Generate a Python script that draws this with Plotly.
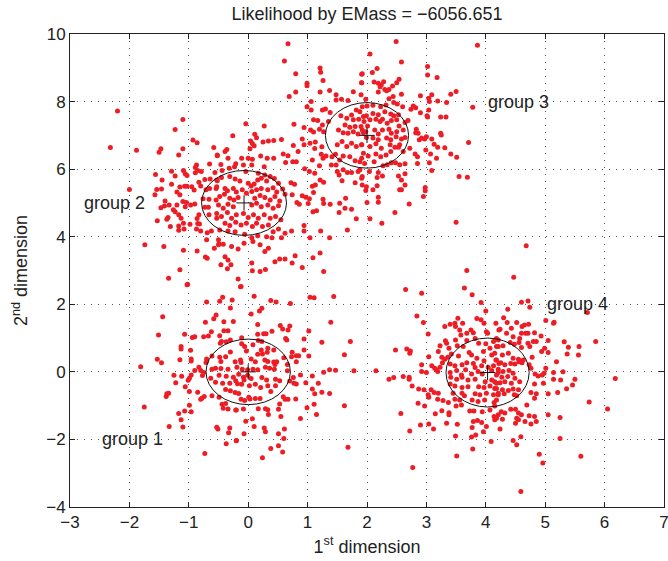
import plotly.graph_objects as go

# ---------------- data (data units) ----------------
group1_pts = [
    (-1.03,2.58),(-0.70,2.07),(-0.48,2.09),(-0.43,2.21),(-0.27,2.13),(-0.30,1.89),(-0.54,1.68),(-0.58,1.57),
    (-1.44,1.63),(-0.72,1.47),(-0.41,1.48),(-0.25,1.49),(-0.62,1.19),(-0.75,1.04),(-0.67,1.06),(-0.48,1.07),
    (-0.41,1.22),(-0.34,1.22),(-1.07,1.11),(-0.94,1.02),(-0.90,1.04),(-1.51,1.09),(-1.13,0.75),(-1.13,0.68),
    (-0.97,0.64),(-0.45,0.90),(-0.47,0.85),(-0.37,0.89),(-0.30,0.94),(-0.96,0.38),(-0.96,0.32),(-1.15,0.36),
    (-1.53,0.37),(-1.46,0.27),(-0.70,0.38),(-0.61,0.47),(-0.48,0.43),(-0.38,0.45),(-0.30,0.59),(-0.46,0.31),
    (-1.81,0.15),(-0.83,0.14),(-0.90,0.04),(-0.80,0.04),(-0.75,-0.02),(-0.61,0.08),(-0.55,0.11),(-0.46,0.10),
    (-0.34,0.08),(-0.71,0.28),(-1.25,-0.10),(-1.12,-0.13),(-0.96,-0.09),(-0.99,-0.19),(-0.77,-0.11),(-0.63,-0.19),
    (-0.49,-0.10),(-0.37,-0.13),(-0.25,-0.16),(-1.01,-0.25),(-1.22,-0.32),(-0.55,-0.31),(-0.43,-0.34),(-0.31,-0.34),
    (-0.18,-0.35),(-1.06,-0.44),(-0.99,-0.58),(-0.85,-0.60),(-0.74,-0.73),(-0.80,-0.81),(-0.78,-0.78),(-0.61,-0.71),
    (-0.49,-0.75),(-0.38,-0.52),(-0.30,-0.56),(-0.22,-0.61),(-1.37,-0.65),(-1.38,-0.73),(-1.34,-0.63),(-1.75,-1.04),
    (-0.99,-0.99),(-1.07,-1.16),(-1.17,-1.23),(-0.96,-1.18),(-1.13,-1.42),(-1.10,-1.63),(-1.33,-1.62),(-0.44,-0.96),
    (-0.38,-0.94),(-0.42,-1.08),(-0.34,-1.10),(-0.21,-1.13),(-0.53,-1.64),(-0.51,-1.69),(-0.31,-1.66),(-0.33,-1.80),
    (-0.20,-2.04),(-0.37,-2.13),(-0.73,-2.42),
    (-0.13,2.52),(0.10,2.24),(0.38,2.11),(0.47,2.07),(0.71,2.02),(1.04,2.21),(1.11,2.19),(1.44,2.23),
    (0.23,1.88),(0.19,1.80),(0.05,1.71),(0.16,1.40),(1.39,1.47),(0.54,1.37),(0.70,1.36),(0.58,1.27),
    (0.67,1.24),(0.26,1.13),(0.30,1.13),(0.40,1.20),(0.16,1.11),(1.02,1.21),(0.63,0.99),(0.65,0.94),
    (0.94,0.97),(1.24,0.88),(-0.11,1.01),(0.17,0.93),(0.23,0.90),(-0.11,0.83),(-0.06,0.75),(-0.03,0.62),
    (0.08,0.80),(0.33,0.70),(0.43,0.65),(0.22,0.65),(0.16,0.52),(0.24,0.53),(0.32,0.58),(0.74,0.58),
    (0.81,0.48),(0.85,0.48),(0.94,0.65),(1.02,0.47),(0.73,0.45),(0.60,0.42),(-0.13,0.35),(0.05,0.38),
    (0.12,0.30),(0.28,0.35),(0.33,0.31),(0.43,0.29),(0.48,0.30),(0.45,0.22),(-0.12,0.28),(-0.22,0.30),
    (0.66,0.22),(0.81,0.30),(-0.19,0.14),(-0.10,0.08),(-0.01,0.06),(0.08,0.08),(0.16,0.06),(0.29,0.14),
    (0.36,0.11),(0.44,0.08),(0.66,0.03),(0.88,-0.09),(1.08,-0.12),(1.27,-0.01),(1.37,0.06),(1.47,0.05),
    (1.62,0.51),(-0.16,-0.07),(-0.08,-0.16),(-0.01,-0.10),(-0.07,-0.24),(-0.21,-0.26),(0.05,-0.20),(0.23,-0.17),
    (0.31,-0.24),(0.46,-0.22),(0.53,-0.26),(0.70,-0.27),(0.76,-0.17),(0.81,-0.36),(0.77,-0.34),(0.97,-0.32),
    (1.18,-0.34),(-0.11,-0.37),(0.02,-0.41),(0.12,-0.37),(0.33,-0.41),(0.46,-0.41),(0.21,-0.46),(-0.16,-0.64),
    (0.38,-0.58),(1.08,-0.51),(1.24,-0.60),(1.12,-0.65),(1.37,-0.64),(0.01,-0.75),(0.03,-0.80),(0.12,-0.79),
    (0.20,-0.79),(-0.12,-0.81),(-0.06,-0.85),(0.59,-0.74),(0.62,-0.81),(0.67,-0.81),(0.80,-0.80),(0.53,-0.95),
    (1.11,-0.96),(0.99,-1.06),(1.15,-1.26),(1.62,-1.00),(-0.08,-1.10),(0.17,-1.09),(0.29,-1.09),(0.33,-1.12),
    (0.51,-1.11),(-0.20,-1.13),(0.34,-1.26),(0.55,-1.32),(0.88,-1.38),(0.07,-1.39),(-0.04,-1.46),(0.10,-1.62),
    (0.27,-1.66),(0.29,-1.77),(0.61,-1.69),(0.51,-1.83),(-0.07,-1.83),(-0.20,-2.03),(0.60,-1.97),(0.51,-2.19),
    (0.38,-2.27),(0.58,-2.37),(0.24,-2.54),(1.72,0.90),(1.78,0.03),(1.68,-2.23),
]

group2_pts = [
    (-2.20,7.72),(-2.32,6.64),(-1.88,6.56),(-1.50,6.50),(-1.47,6.60),(-1.17,6.42),(-1.10,7.47),(-1.23,7.17),
    (-0.93,6.86),(-0.86,6.78),(-1.10,6.60),(-0.58,6.64),(-0.52,6.40),(-0.87,6.12),(-0.89,6.05),(-0.65,6.15),
    (-0.85,5.96),(-1.09,5.96),(-1.29,5.94),(-1.56,5.84),(-1.23,5.80),(-1.06,5.86),(-1.03,5.81),(-0.89,5.89),
    (-0.79,5.93),(-0.56,5.90),(-0.73,5.69),(-0.64,5.71),(-0.52,5.66),(-1.29,5.55),(-1.45,5.68),(-1.15,5.47),
    (-1.07,5.49),(-1.03,5.49),(-0.95,5.48),(-0.83,5.61),(-0.80,5.50),(-1.54,5.40),(-1.46,5.41),(-1.20,5.32),
    (-2.00,5.40),(-1.15,5.24),(-0.91,5.38),(-0.71,5.39),(-0.65,5.43),(-0.54,5.43),(-1.57,5.24),(-1.40,5.06),
    (-1.41,4.91),(-1.33,4.94),(-1.47,4.86),(-1.26,4.80),(-1.20,4.94),(-1.10,5.04),(-1.04,5.01),(-0.97,4.94),
    (-1.06,4.89),(-0.90,4.97),(-0.76,5.12),(-0.73,4.87),(-0.66,5.11),(-0.67,4.87),(-0.54,5.09),(-1.23,4.74),
    (-1.37,4.52),(-1.35,4.57),(-1.53,4.47),(-1.17,4.65),(-1.13,4.55),(-0.86,4.54),(-0.83,4.65),(-0.66,4.65),
    (-0.53,4.55),(-1.31,4.30),(-1.17,4.32),(-1.09,4.40),(-0.98,4.37),(-0.85,4.39),(-0.82,4.38),(-1.17,4.19),
    (-1.08,4.23),(-0.87,4.23),(-0.80,4.17),(-0.69,4.12),(-0.62,4.17),(-0.70,3.91),(-0.50,3.91),(-1.74,3.76),
    (-1.42,3.71),(-1.09,3.60),(-0.86,3.58),(-0.57,3.66),(-0.49,3.79),(-0.72,3.40),(-0.69,3.36),(-1.15,3.02),
    (-1.34,2.77),(-1.02,2.59),
    (0.99,7.85),(1.06,7.75),(1.25,7.75),(1.30,7.78),(1.38,7.68),(0.77,7.33),(0.27,7.28),(-0.04,7.34),
    (-0.26,6.99),(0.11,7.03),(0.14,6.93),(0.04,6.83),(0.07,6.76),(0.10,6.69),(0.03,6.60),(0.25,6.80),
    (0.34,6.83),(0.43,6.85),(0.56,6.88),(0.76,6.70),(0.84,6.52),(0.91,6.89),(0.94,7.23),(1.10,7.46),
    (1.17,7.44),(1.05,7.16),(1.10,7.10),(1.20,7.18),(1.27,7.11),(1.25,7.31),(1.35,7.41),(1.04,6.77),
    (1.13,6.80),(1.12,6.61),(1.24,6.66),(1.23,6.44),(1.26,6.32),(1.31,6.39),(1.41,6.37),(1.47,6.44),
    (1.40,6.12),(1.48,6.12),(0.94,6.72),(1.08,6.27),(1.20,6.10),(1.53,5.83),(-0.39,6.52),(-0.36,6.58),
    (-0.52,6.42),(-0.34,6.32),(-0.46,6.14),(-0.21,6.16),(-0.23,6.07),(-0.11,6.32),(0.00,6.32),(0.07,6.29),
    (0.21,6.39),(0.32,6.32),(0.43,6.32),(0.59,6.45),(0.67,6.40),(0.63,6.20),(0.75,6.22),(0.81,6.22),
    (0.95,6.01),(1.03,5.93),(1.12,5.88),(1.13,5.53),(1.21,5.68),(1.27,5.61),(-0.08,6.12),(0.06,6.12),
    (0.27,6.07),(-0.44,5.96),(-0.32,6.03),(-0.04,5.93),(0.17,5.88),(0.28,5.83),(0.37,5.78),(0.44,5.72),
    (0.51,5.58),(0.58,5.41),(0.72,5.60),(0.78,5.55),(0.62,5.26),(0.74,5.24),(0.86,4.96),(0.82,5.01),
    (0.91,5.21),(0.97,5.17),(1.03,5.12),(1.01,4.98),(1.08,5.49),(1.10,5.31),(1.26,5.11),(1.27,4.98),
    (1.38,4.96),(1.53,4.72),(1.15,4.77),(1.09,4.74),(1.22,4.17),(0.94,4.33),(0.94,4.17),(1.37,3.97),
    (1.04,3.97),(1.21,3.52),(1.27,2.97),(1.09,3.38),(0.91,3.09),
    (-0.53,5.68),(-0.45,5.75),(-0.31,5.78),(-0.22,5.71),(-0.14,5.65),(0.00,5.58),(0.05,5.50),(0.10,5.56),
    (0.16,5.68),(0.22,5.73),(0.31,5.65),(-0.53,5.48),(-0.39,5.43),(-0.35,5.36),(-0.25,5.43),(-0.20,5.32),
    (-0.10,5.39),(-0.03,5.29),(0.06,5.34),(0.14,5.39),(0.22,5.43),(0.33,5.39),(0.42,5.45),(0.48,5.32),
    (-0.48,5.19),(-0.40,5.26),(-0.31,5.14),(-0.24,5.09),(-0.17,5.16),(0.11,5.14),(0.20,5.22),(0.28,5.16),
    (0.37,5.09),(0.45,5.19),(0.53,5.06),(-0.50,4.94),(-0.42,4.84),(-0.34,4.96),(-0.25,4.89),(0.06,4.94),
    (0.14,4.99),(0.22,4.89),(0.33,4.94),(0.42,4.84),(0.51,4.92),(-0.53,4.69),(-0.45,4.60),(-0.35,4.72),
    (-0.28,4.55),(-0.20,4.65),(-0.08,4.69),(0.00,4.57),(0.09,4.65),(0.17,4.55),(0.27,4.65),(0.37,4.55),
    (0.46,4.60),(0.55,4.50),(-0.39,4.40),(-0.31,4.33),(-0.21,4.43),(-0.12,4.35),(-0.03,4.40),(0.07,4.30),
    (0.14,4.40),(0.24,4.30),(0.34,4.35),(0.42,4.15),(0.51,4.23),(0.62,4.10),(0.73,4.17),(-0.48,4.20),
    (-0.34,4.17),(-0.22,4.15),(-0.06,4.07),(0.06,3.97),(0.16,4.03),(0.31,4.00),(0.40,3.97),(0.56,3.97),
    (-0.50,3.76),(-0.42,3.78),(-0.28,3.71),(-0.17,3.64),(-0.07,3.81),(0.08,3.86),(0.20,3.76),(0.28,3.56),
    (0.34,3.66),(0.53,3.34),(0.62,3.34),(0.45,3.26),(-0.39,3.41),(-0.34,3.31),(-0.46,3.17),(-0.29,3.17),
    (-0.35,3.05),(0.06,3.22),(0.07,2.99),(0.20,2.97),(0.29,3.03),(0.74,3.22),(0.79,3.44),(-0.17,2.75),
    (-0.12,2.53),
]

group3_pts = [
    (0.67,9.71),(0.61,9.20),(0.80,8.82),(0.99,8.54),(0.99,8.47),(0.80,8.28),(0.69,8.15),(1.21,8.99),
    (1.22,8.87),(1.26,8.62),(1.21,8.28),(1.37,8.33),(1.48,8.20),(1.48,8.05),(1.57,8.07),(1.68,8.03),
    (1.77,8.29),(1.90,8.20),(1.91,8.56),(1.92,8.82),(1.06,8.00),
    (1.56,7.58),(1.66,7.51),(1.74,7.60),(1.82,7.75),(1.77,7.46),(1.86,7.48),(1.94,7.56),(1.63,7.31),
    (1.71,7.24),(1.80,7.26),(1.90,7.26),(1.52,7.16),(1.60,7.08),(1.68,7.06),(1.77,7.11),(1.85,7.04),
    (1.94,7.08),(1.58,6.82),(1.66,6.67),(1.74,6.77),(1.82,6.67),(1.91,6.72),(1.50,6.72),(1.54,6.27),
    (1.60,6.39),(1.71,6.37),(1.80,6.25),(1.91,6.32),(1.50,5.93),(1.60,5.98),(1.67,5.90),(1.74,5.90),
    (1.85,5.93),(1.92,5.78),(1.58,5.66),(1.80,5.60),(1.64,5.14),(1.54,4.99),(1.63,4.84),(1.74,4.81),
    (2.49,9.78),(3.86,9.67),(2.05,9.41),(2.58,9.17),(3.02,9.04),(3.02,8.79),(3.18,8.71),(1.91,8.81),
    (2.17,8.98),(2.09,8.86),(2.54,8.66),(2.12,8.58),(2.19,8.54),(2.24,8.49),(2.28,8.59),(2.22,8.44),
    (2.50,8.56),(2.43,8.46),(2.37,8.36),(2.30,8.36),(2.33,8.32),(2.19,8.28),(1.91,8.56),(2.58,8.22),
    (2.44,8.15),(2.37,8.08),(1.98,8.07),(3.41,8.22),(3.50,8.30),(3.09,8.20),(3.04,8.10),(3.05,8.00),
    (3.19,8.02),(2.90,8.17),(3.34,7.97),(1.92,7.85),(2.00,7.87),(2.10,7.89),(2.23,7.85),(2.32,7.90),
    (2.45,7.97),(2.51,7.93),(2.60,7.85),(2.78,7.87),(2.82,7.82),(2.74,7.77),(2.90,7.67),(3.04,7.75),
    (3.01,7.58),(3.02,7.54),(3.24,7.54),(3.33,7.54),(3.78,7.83),(1.88,7.70),(1.99,7.58),(2.10,7.65),
    (2.19,7.61),(2.30,7.70),(2.40,7.63),(2.45,7.58),(2.53,7.61),(1.95,7.41),(2.05,7.46),(2.15,7.48),
    (2.22,7.41),(2.26,7.48),(2.34,7.36),(2.41,7.44),(2.50,7.46),(2.54,7.28),(2.64,7.38),(2.69,7.44),
    (2.01,7.28),(1.92,7.16),(1.98,7.11),(2.13,7.16),(2.19,7.04),(2.26,7.16),(2.37,7.18),(2.41,7.06),
    (2.50,7.11),(2.61,7.16),(2.83,7.18),(2.86,7.06),(1.99,6.94),(2.10,6.92),(2.19,6.87),(2.33,6.92),
    (2.40,6.87),(2.49,6.96),(2.58,6.89),(2.64,6.94),(2.82,7.08),(2.92,6.92),(2.88,6.87),(2.97,6.89),
    (3.00,6.96),(3.09,6.89),(3.24,7.06),(3.25,7.01),(3.71,6.79),(1.91,6.72),(2.05,6.67),(2.15,6.75),
    (2.24,6.62),(2.39,6.72),(2.47,6.65),(2.55,6.72),(2.72,6.62),(3.13,6.74),(3.19,6.65),(3.31,6.63),
    (1.94,6.47),(2.02,6.39),(2.15,6.45),(2.23,6.37),(2.32,6.42),(2.40,6.52),(2.53,6.65),(2.61,6.52),
    (2.81,6.45),(2.85,6.37),(2.99,6.57),(3.07,6.45),(3.17,6.32),(3.41,6.45),(3.51,6.35),(1.88,6.22),
    (1.96,6.17),(2.12,6.22),(2.27,6.10),(2.34,6.13),(2.41,6.19),(2.48,6.19),(2.55,6.13),(2.64,6.16),
    (2.85,6.17),(3.05,6.19),(3.09,5.96),(1.88,5.98),(1.91,5.73),(2.04,5.93),(2.17,5.75),(2.19,5.90),
    (2.26,5.80),(2.53,5.80),(2.58,5.68),(2.64,5.86),(2.64,5.53),(3.55,5.78),(3.69,5.76),(1.92,5.53),
    (1.99,5.48),(2.10,5.39),(2.17,5.51),(1.98,5.37),(2.55,5.39),(2.58,5.39),(2.98,5.46),(2.98,5.36),
    (2.95,5.19),(2.19,5.17),(2.19,5.02),(2.00,5.01),(2.71,4.97),(2.47,4.72),
    (2.05,4.53),(2.25,4.40),(1.82,4.53),(1.67,4.20),(3.50,4.43),(4.68,3.73),(3.68,3.00),(4.47,2.80),
]

group4_pts = [
    (2.65,2.44),(2.92,2.33),(3.64,2.48),(3.77,2.28),(3.92,2.05),(4.00,1.80),(2.84,1.65),(2.95,1.46),
    (3.53,1.59),(3.85,1.58),(3.92,1.54),(3.97,1.44),(3.31,1.34),(3.40,1.41),(3.48,1.44),(3.49,1.34),
    (3.61,1.44),(3.56,1.24),(3.68,1.14),(3.75,1.24),(3.79,1.16),(3.58,1.09),(3.03,1.12),(4.01,1.19),
    (4.03,1.14),(4.22,1.24),(3.32,0.92),(3.34,0.85),(3.49,0.94),(3.68,0.93),(3.82,0.99),(3.23,0.77),
    (3.38,0.70),(3.52,0.77),(3.62,0.75),(3.88,0.85),(4.00,0.83),(4.13,0.90),(4.21,0.94),(4.07,0.70),
    (4.18,0.75),(2.48,0.65),(2.67,0.68),(2.73,0.62),(2.72,0.55),(3.20,0.60),(3.04,0.45),(3.26,0.43),
    (3.31,0.37),(3.36,0.43),(3.42,0.53),(3.54,0.47),(3.72,0.57),(3.76,0.50),(3.85,0.40),(3.96,0.60),
    (4.10,0.50),(4.17,0.35),(3.97,0.33),(2.92,0.21),(3.09,0.18),(3.14,0.11),(3.17,0.06),(3.23,0.14),
    (3.27,0.27),(3.40,0.23),(3.48,0.18),(3.60,0.21),(3.68,0.27),(3.79,0.25),(3.82,0.13),(3.93,0.18),
    (4.04,0.14),(4.13,0.18),(4.22,0.25),(2.15,0.03),(2.92,0.01),(3.00,-0.02),(3.19,0.01),(3.40,-0.02),
    (3.51,0.04),(3.59,-0.09),(3.66,0.06),(3.76,-0.06),(3.87,0.01),(3.94,-0.06),(4.10,0.04),(4.21,-0.02),
    (2.37,-0.22),(2.45,-0.17),(2.61,-0.14),(2.71,-0.16),(2.71,-0.22),(3.41,-0.16),(3.51,-0.22),(3.60,-0.16),
    (3.70,-0.24),(3.82,-0.22),(3.99,-0.29),(4.10,-0.24),(4.18,-0.34),(2.76,-0.42),(3.40,-0.36),(3.48,-0.42),
    (3.60,-0.46),(3.70,-0.44),(3.88,-0.44),(3.97,-0.46),(4.07,-0.42),(4.15,-0.49),(2.87,-0.51),(2.96,-0.53),
    (3.08,-0.53),(3.13,-0.61),(3.20,-0.63),(3.03,-0.68),(3.45,-0.63),(3.60,-0.63),(3.82,-0.65),(3.90,-0.68),
    (4.01,-0.63),(4.13,-0.68),(4.21,-0.63),(3.04,-0.75),(3.19,-0.81),(3.28,-0.85),(3.48,-0.81),(3.56,-0.83),
    (3.64,-0.71),(3.77,-0.83),(3.87,-0.88),(3.98,-0.83),(4.14,-0.91),(2.86,-0.93),(2.97,-1.01),(3.37,-0.91),
    (3.50,-1.01),(3.59,-0.98),(3.26,-1.15),(3.15,-1.24),(3.38,-1.21),(3.38,-1.27),(3.73,-1.16),(3.80,-1.16),
    (3.94,-1.18),(4.07,-1.13),(4.14,-1.32),(4.21,-1.27),(2.57,-1.23),(2.90,-1.57),(3.04,-1.54),(3.12,-1.69),
    (3.34,-1.52),(3.52,-1.55),(3.79,-1.47),(3.86,-1.44),(3.93,-1.50),(4.01,-1.62),(3.77,-1.65),(3.96,-1.77),
    (2.72,-1.75),(3.49,-1.90),(3.76,-1.93),(3.83,-1.87),(4.09,-2.06),(3.78,-2.28),(3.51,-2.49),(2.77,-2.83),
    (4.60,2.06),(4.71,2.10),(4.74,1.91),(4.37,1.85),(5.71,1.76),(4.30,1.60),(4.17,1.44),(4.24,1.26),
    (4.36,1.46),(4.43,1.29),(4.52,1.46),(4.61,1.34),(4.65,1.39),(4.72,1.41),(4.60,1.14),(4.67,1.14),
    (4.71,1.14),(4.82,1.16),(5.01,1.52),(5.14,1.44),(5.15,1.47),(4.35,1.14),(4.46,1.04),(4.57,0.99),
    (5.05,0.93),(4.93,1.06),(4.80,0.90),(4.85,0.90),(5.32,0.89),(5.57,0.75),(5.85,0.90),(4.18,0.99),
    (4.21,0.75),(4.29,0.77),(4.41,0.87),(4.48,0.82),(4.56,0.87),(4.71,0.85),(4.74,0.75),(4.60,0.72),
    (5.39,0.73),(4.99,0.70),(4.94,0.60),(5.05,0.57),(5.37,0.53),(5.56,0.50),(4.78,0.43),(5.19,0.30),
    (4.15,0.55),(4.28,0.50),(4.38,0.55),(4.46,0.40),(4.55,0.37),(4.63,0.35),(4.18,0.35),(4.25,0.27),
    (4.32,0.21),(4.42,0.25),(4.49,0.23),(4.56,0.30),(4.61,0.27),(4.73,0.21),(4.76,0.11),(5.01,0.11),
    (4.21,0.08),(4.29,0.01),(4.39,0.04),(4.46,-0.04),(4.18,-0.09),(4.27,-0.16),(4.37,-0.14),(4.49,-0.19),
    (4.83,-0.06),(4.88,-0.12),(4.95,-0.09),(4.98,-0.04),(5.14,-0.02),(5.30,0.00),(6.18,-0.20),(4.15,-0.29),
    (4.24,-0.32),(4.32,-0.29),(4.43,-0.34),(4.57,-0.29),(4.82,-0.36),(4.97,-0.34),(5.14,-0.22),(5.26,-0.24),
    (5.50,-0.22),(5.46,-0.39),(4.18,-0.49),(4.28,-0.53),(4.38,-0.55),(4.46,-0.51),(4.55,-0.53),(4.21,-0.68),
    (4.31,-0.65),(4.48,-0.68),(4.52,-0.71),(4.76,-0.61),(4.85,-0.65),(5.05,-0.65),(5.21,-0.61),(5.36,-0.50),
    (4.82,-0.78),(4.18,-0.83),(4.15,-1.01),(4.42,-1.11),(4.50,-1.11),(4.69,-0.98),(5.74,-0.89),(4.26,-1.18),
    (4.32,-1.22),(4.55,-1.22),(4.60,-1.27),(4.73,-1.30),(4.82,-1.32),(5.05,-1.27),(5.25,-1.35),(6.05,-1.10),
    (4.18,-1.37),(4.15,-1.42),(4.28,-1.40),(4.52,-1.37),(4.55,-1.42),(4.66,-1.47),(4.76,-1.54),(4.85,-1.47),
    (4.24,-1.69),(4.50,-1.52),(5.25,-1.97),(4.59,-1.92),(4.46,-2.03),(4.52,-2.16),(4.90,-2.44),(4.96,-2.70),
    (5.60,-2.50),(4.59,-3.54),
]

center_x = [0.0, -0.07, 2.0, 4.03]
center_y = [0.0, 5.0, 7.0, -0.02]
semi_x = [0.71, 0.715, 0.70, 0.70]
semi_y = [0.97, 0.96, 0.97, 1.02]

label_text = ["group 1", "group 2", "group 3", "group 4"]
label_x = [-2.5, -2.8, 4.0, 5.0]
label_y = [-2.0, 5.0, 8.0, 2.0]

x_ticks = [-3, -2, -1, 0, 1, 2, 3, 4, 5, 6, 7]
y_ticks = [-4, -2, 0, 2, 4, 6, 8, 10]
title_text = "Likelihood by EMass = \u22126056.651"

# ---------------- figure ----------------
FONT = "Liberation Sans, Arial, Helvetica, sans-serif"
RED = "#ee1d25"
INK = "#222222"

fig = go.Figure()
for pts in (group1_pts, group2_pts, group3_pts, group4_pts):
    fig.add_trace(go.Scatter(
        x=[p[0] for p in pts], y=[p[1] for p in pts], mode="markers",
        marker=dict(size=5, color=RED, line=dict(width=0)),
        hoverinfo="skip", showlegend=False))

for cx, cy, sx, sy in zip(center_x, center_y, semi_x, semi_y):
    fig.add_shape(type="circle", xref="x", yref="y",
                  x0=cx - sx, x1=cx + sx, y0=cy - sy, y1=cy + sy,
                  line=dict(color="#111111", width=1))

fig.add_trace(go.Scatter(
    x=center_x, y=center_y, mode="markers",
    marker=dict(symbol="cross-thin", size=11, line=dict(color="#111111", width=1)),
    hoverinfo="skip", showlegend=False))

for t, lx, ly in zip(label_text, label_x, label_y):
    fig.add_annotation(x=lx, y=ly, xref="x", yref="y", text=t, showarrow=False,
                       xanchor="left", yanchor="middle",
                       font=dict(family=FONT, size=18, color=INK))

axis_common = dict(
    showline=True, linecolor=INK, linewidth=1, mirror="ticks",
    ticks="inside", ticklen=5, tickcolor=INK, tickwidth=1,
    showgrid=True, gridcolor="#555555", gridwidth=1, griddash="1px,6px",
    zeroline=False, tickfont=dict(family=FONT, size=17, color=INK),
    ticklabeloverflow="allow",
)

fig.update_xaxes(range=[-3, 7], tickvals=x_ticks,
                 title=dict(text="1<sup>st</sup> dimension",
                            font=dict(family=FONT, size=18, color=INK), standoff=8),
                 **axis_common)
fig.update_yaxes(range=[-4, 10], tickvals=y_ticks,
                 title=dict(text="2<sup>nd</sup> dimension",
                            font=dict(family=FONT, size=18, color=INK), standoff=13),
                 **axis_common)

fig.update_layout(
    width=668, height=561,
    margin=dict(l=70, r=4, t=34, b=54, autoexpand=False),
    plot_bgcolor="white", paper_bgcolor="white",
    title=dict(text=title_text, x=0.5, xref="paper", y=1 - 14 / 561, yref="container",
               xanchor="center", yanchor="middle",
               font=dict(family=FONT, size=18, color=INK)),
    font=dict(family=FONT),
)

fig.write_html(
    "out.html",
    config={"displayModeBar": False},
    post_script="document.body.style.margin='0px';document.body.style.padding='0px';"
                "document.body.style.overflow='hidden';",
)
